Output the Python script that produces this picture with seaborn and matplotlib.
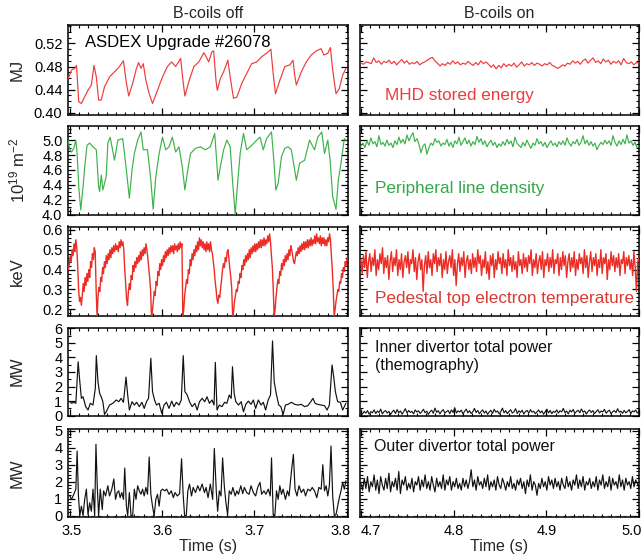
import numpy as np
import pandas as pd
import matplotlib
matplotlib.use("Agg")
import matplotlib.pyplot as plt
import matplotlib.transforms as mtransforms
import seaborn as sns
from matplotlib.ticker import MultipleLocator

sns.set_style("ticks")
plt.rcParams['font.family'] = ['Liberation Sans', 'DejaVu Sans']
plt.rcParams['mathtext.default'] = 'regular'

# ---------------- DATA ----------------
col_titles = ["B-coils off", "B-coils on"]
xlabel = "Time (s)"
ylabels = ["MJ", "10$^{19}$ m$^{-2}$", "keV", "MW", "MW"]
off_ticks = [3.5, 3.6, 3.7, 3.8]
on_ticks = [4.7, 4.8, 4.9, 5.0]
t_off_start = 3.5   # s, time origin of the ms offsets below

# MHD stored energy, B-coils off (ms after 3.5 s, MJ)
w_off_ms = [-1.8, 1.8, 5.4, 7.2, 9.7, 12.5, 16.1, 19.7, 23.3, 26.2, 28.7, 31.2, 34.0, 37.6, 43.0,
            48.4, 53.8, 58.1, 60.9, 63.8, 68.1, 71.7, 74.5, 77.1, 79.6, 82.4, 86.0, 89.6, 95.0,
            100.4, 105.7, 110.4, 114.7, 120.1, 122.6, 124.7, 129.0, 134.4, 139.8, 145.2, 148.7,
            150.5, 154.1, 155.9, 158.4, 159.8, 163.1, 166.7, 171.3, 173.8, 177.4, 181.0, 186.4,
            191.7, 197.1, 202.5, 207.9, 213.2, 217.9, 220.4, 222.9, 227.6, 233.0, 238.4, 241.9,
            243.7, 245.5, 250.9, 256.3, 261.6, 267.0, 272.4, 275.3, 279.6, 282.4, 284.9, 288.5,
            292.1, 295.7, 299.3]
w_off = [0.459, 0.474, 0.477, 0.482, 0.419, 0.416, 0.428, 0.439, 0.448, 0.482, 0.462, 0.422, 0.422,
         0.445, 0.462, 0.471, 0.480, 0.490, 0.456, 0.429, 0.451, 0.474, 0.487, 0.477, 0.485, 0.456,
         0.433, 0.416, 0.439, 0.462, 0.480, 0.488, 0.480, 0.494, 0.456, 0.429, 0.454, 0.480, 0.488,
         0.504, 0.494, 0.488, 0.506, 0.507, 0.456, 0.439, 0.459, 0.471, 0.491, 0.462, 0.425, 0.427,
         0.451, 0.468, 0.485, 0.488, 0.497, 0.503, 0.510, 0.468, 0.433, 0.456, 0.480, 0.483, 0.491,
         0.465, 0.448, 0.471, 0.488, 0.500, 0.507, 0.511, 0.500, 0.503, 0.513, 0.474, 0.433, 0.442,
         0.465, 0.477]

# MHD stored energy, B-coils on (MJ, evenly sampled 4.7-5.0 s)
w_on = [0.486, 0.484, 0.488, 0.487, 0.485, 0.495, 0.487, 0.490, 0.484, 0.489,
        0.487, 0.491, 0.485, 0.489, 0.483, 0.488, 0.492, 0.486, 0.490, 0.484,
        0.487, 0.485, 0.489, 0.483, 0.486, 0.488, 0.491, 0.494, 0.496, 0.490,
        0.486, 0.481, 0.485, 0.482, 0.487, 0.484, 0.490, 0.485, 0.488, 0.483,
        0.486, 0.484, 0.489, 0.485, 0.482, 0.487, 0.483, 0.490, 0.485, 0.488,
        0.484, 0.479, 0.483, 0.476, 0.482, 0.478, 0.485, 0.480, 0.484, 0.481,
        0.486, 0.479, 0.483, 0.488, 0.481, 0.485, 0.483, 0.487, 0.482, 0.486,
        0.484, 0.481, 0.485, 0.483, 0.487, 0.482, 0.480, 0.477, 0.479, 0.483,
        0.481, 0.486, 0.484, 0.490, 0.486, 0.489, 0.484, 0.490, 0.493, 0.486,
        0.491, 0.495, 0.487, 0.490, 0.485, 0.493, 0.488, 0.491, 0.484, 0.489,
        0.486, 0.490, 0.483, 0.494, 0.487, 0.485, 0.488, 0.483, 0.487, 0.486]

# Peripheral line density, B-coils off (ms after 3.5 s, 1e19 m^-2)
n_off_ms = [-1.8, 0.0, 1.8, 4.3, 6.5, 7.9, 9.7, 11.8, 14.3, 16.1, 18.6, 21.5, 25.1, 28.7, 31.2, 32.3,
            34.1, 35.8, 39.4, 41.2, 43.7, 48.4, 52.0, 57.3, 60.9, 64.5, 67.4, 69.9, 73.5, 77.1,
            79.6, 84.2, 87.8, 90.3, 93.2, 96.8, 100.4, 103.9, 107.5, 111.1, 114.7, 118.3, 121.9,
            124.7, 127.2, 130.8, 136.2, 141.6, 146.9, 152.3, 157.0, 158.8, 160.6, 163.1, 166.7,
            170.2, 173.8, 176.3, 179.2, 182.1, 184.6, 188.2, 191.7, 197.1, 202.5, 206.1, 209.7,
            213.2, 218.6, 221.1, 223.3, 225.8, 229.4, 233.0, 236.5, 240.1, 245.5, 249.1, 254.5,
            259.8, 265.2, 268.8, 273.1, 276.0, 279.6, 282.1, 284.9, 288.5, 291.0, 293.9, 297.5,
            299.3]
n_off = [5.00, 4.87, 4.84, 4.89, 5.00, 4.82, 4.37, 4.06, 4.37, 4.64, 4.93, 4.96, 4.91, 4.87,
         4.37, 4.31, 4.53, 4.33, 4.51, 4.96, 5.04, 4.73, 5.00, 5.02, 4.64, 4.22, 4.60, 4.82, 5.00,
         5.11, 4.87, 4.87, 4.46, 4.07, 4.51, 4.82, 5.04, 4.87, 4.91, 5.04, 4.84, 4.91, 4.64, 4.33,
         4.55, 4.82, 4.89, 4.91, 4.87, 4.91, 5.09, 4.78, 4.46, 4.64, 4.87, 5.00, 4.91, 4.46, 4.00,
         4.46, 4.82, 5.09, 4.87, 4.93, 5.00, 5.04, 4.87, 5.02, 5.11, 4.73, 4.33, 4.42, 4.78, 4.89,
         4.91, 4.87, 4.46, 4.69, 4.73, 5.00, 4.87, 5.04, 5.11, 4.82, 5.00, 4.73, 4.24, 4.07, 4.46,
         4.69, 5.02, 5.00]

# Peripheral line density, B-coils on (evenly sampled 4.7-5.0 s)
n_on = [4.92, 4.96, 4.90, 4.99, 4.93, 5.03, 4.95, 4.98, 4.91, 5.06,
        4.94, 4.97, 4.92, 5.00, 4.93, 4.96, 4.90, 4.99, 4.94, 5.04,
        4.96, 5.01, 4.95, 5.07, 4.99, 5.05, 5.10, 4.98, 5.02, 4.95,
        4.83, 4.92, 4.95, 4.81, 4.90, 4.96, 4.93, 5.02, 4.97, 4.99,
        4.92, 4.96, 4.94, 5.01, 4.92, 4.97, 4.90, 4.99, 4.95, 5.04,
        4.93, 4.98, 5.03, 4.95, 5.00, 4.92, 4.98, 4.94, 5.05, 4.97,
        5.02, 4.94, 4.99, 4.91, 4.96, 5.00, 4.93, 4.97, 4.90, 4.95,
        4.92, 4.98, 4.93, 5.01, 4.95, 4.99, 4.91, 5.04, 4.96, 4.93,
        4.90, 4.97, 4.92, 5.00, 4.94, 4.89, 4.96, 4.93, 5.02, 4.95,
        4.98, 4.92, 4.97, 4.90, 4.95, 4.99, 4.93, 4.96, 4.91, 4.98,
        4.94, 4.99, 4.93, 5.03, 4.96, 4.92, 4.98, 4.95, 5.01, 4.93,
        4.97, 5.06, 4.95, 5.00, 4.93, 4.98, 4.92, 4.96, 4.87, 4.93,
        4.97, 4.94, 5.00, 4.95, 4.99, 4.93, 5.06, 4.97, 4.92, 4.99,
        4.94, 5.01, 4.95, 5.07, 4.96, 4.99, 4.93, 4.97, 4.90, 4.92]

# Pedestal top Te, B-coils off (keV, sampled every 1 ms from 3.4985 s)
te_off_first_ms = -1.5
te_off = [0.40, 0.43, 0.47, 0.44, 0.50, 0.47, 0.53, 0.49, 0.55, 0.51, 0.42, 0.30, 0.24, 0.26, 0.22, 0.27,
          0.33, 0.29, 0.36, 0.32, 0.38, 0.34, 0.40, 0.36, 0.44, 0.41, 0.48, 0.45, 0.51, 0.49,
          0.30, 0.16,
          0.26, 0.31, 0.29, 0.36, 0.34, 0.41, 0.38, 0.44, 0.41, 0.47, 0.43, 0.48, 0.45, 0.50, 0.46,
          0.51, 0.48, 0.52, 0.49, 0.53, 0.50, 0.52, 0.49, 0.54, 0.51, 0.55, 0.52, 0.54, 0.50,
          0.40, 0.33, 0.25, 0.22, 0.29,
          0.33, 0.30, 0.37, 0.35, 0.42, 0.39, 0.44, 0.41, 0.46, 0.43, 0.47, 0.44, 0.49, 0.45, 0.50,
          0.47, 0.51, 0.48, 0.53, 0.50,
          0.46, 0.41, 0.36, 0.30, 0.16, 0.19,
          0.24, 0.29, 0.27, 0.34, 0.32, 0.39, 0.37, 0.43, 0.40, 0.45, 0.42, 0.47, 0.44, 0.49, 0.46,
          0.50, 0.47, 0.51, 0.48, 0.52, 0.49, 0.52, 0.48, 0.53, 0.50, 0.52, 0.49, 0.53, 0.50, 0.54,
          0.51, 0.53,
          0.16, 0.20,
          0.27, 0.31, 0.35, 0.33, 0.40, 0.38, 0.45, 0.42, 0.48, 0.45, 0.50, 0.47, 0.52, 0.49, 0.54,
          0.50, 0.56, 0.52, 0.55, 0.51, 0.54, 0.50, 0.53, 0.49, 0.54, 0.50, 0.53, 0.49, 0.54, 0.50,
          0.48, 0.44,
          0.40, 0.34, 0.30, 0.25, 0.23, 0.27, 0.26,
          0.31, 0.35, 0.40, 0.43, 0.41, 0.46, 0.44, 0.49, 0.50, 0.45,
          0.40, 0.36, 0.30, 0.16, 0.19,
          0.24, 0.27, 0.30, 0.29, 0.34, 0.33, 0.38, 0.36, 0.42, 0.40, 0.45, 0.42, 0.47, 0.44, 0.48,
          0.45, 0.50, 0.46, 0.51, 0.48, 0.52, 0.49, 0.53, 0.49, 0.53, 0.50, 0.54, 0.51, 0.55, 0.51,
          0.55, 0.52, 0.56, 0.52, 0.55, 0.53, 0.57, 0.54, 0.58, 0.54,
          0.47, 0.41, 0.30, 0.16, 0.20,
          0.26, 0.31, 0.35, 0.33, 0.39, 0.37, 0.43, 0.40, 0.45, 0.42, 0.47, 0.44, 0.48, 0.45, 0.50,
          0.47, 0.52, 0.50, 0.47, 0.44, 0.43, 0.46, 0.49, 0.47, 0.51, 0.48, 0.52, 0.49, 0.53, 0.50,
          0.54, 0.50, 0.54, 0.51, 0.55, 0.51, 0.55, 0.52, 0.56, 0.52, 0.55, 0.53, 0.57, 0.53, 0.58,
          0.54, 0.56, 0.53, 0.57, 0.52, 0.56, 0.53, 0.56, 0.52, 0.55, 0.52, 0.56, 0.54, 0.58, 0.55,
          0.47, 0.40, 0.30, 0.16, 0.20,
          0.24, 0.27, 0.30, 0.29, 0.34, 0.33, 0.38, 0.36, 0.41, 0.39, 0.44, 0.42, 0.46]

# Pedestal top Te, B-coils on (evenly sampled 4.7-5.0 s)
te_on = [0.45, 0.38, 0.47, 0.41, 0.49, 0.36, 0.44, 0.48, 0.39, 0.46,
         0.42, 0.50, 0.37, 0.45, 0.40, 0.48, 0.43, 0.51, 0.38, 0.46,
         0.41, 0.47, 0.35, 0.44, 0.49, 0.39, 0.46, 0.42, 0.50, 0.37,
         0.45, 0.40, 0.48, 0.36, 0.44, 0.47, 0.41, 0.49, 0.38, 0.45,
         0.43, 0.50, 0.39, 0.46, 0.35, 0.44, 0.48, 0.40, 0.45, 0.29,
         0.42, 0.47, 0.38, 0.49, 0.41, 0.45, 0.37, 0.48, 0.43, 0.50,
         0.39, 0.46, 0.42, 0.48, 0.36, 0.45, 0.40, 0.49, 0.38, 0.44,
         0.47, 0.41, 0.50, 0.37, 0.45, 0.32, 0.43, 0.48, 0.39, 0.46,
         0.42, 0.49, 0.36, 0.44, 0.47, 0.40, 0.45, 0.38, 0.48, 0.41,
         0.46, 0.39, 0.50, 0.43, 0.47, 0.37, 0.45, 0.41, 0.49, 0.38,
         0.44, 0.35, 0.47, 0.42, 0.48, 0.36, 0.45, 0.40, 0.49, 0.43,
         0.46, 0.38, 0.48, 0.41, 0.45, 0.37, 0.50, 0.42, 0.46, 0.39,
         0.47, 0.40, 0.44, 0.36, 0.49, 0.42, 0.45, 0.38, 0.48, 0.41,
         0.46, 0.39, 0.47, 0.43, 0.50, 0.37, 0.45, 0.41, 0.48, 0.38,
         0.44, 0.47, 0.40, 0.49, 0.36, 0.45, 0.42, 0.48, 0.39, 0.46,
         0.41, 0.50, 0.38, 0.45, 0.43, 0.48, 0.37, 0.46, 0.40, 0.49,
         0.42, 0.47, 0.36, 0.44, 0.48, 0.39, 0.46, 0.41, 0.49, 0.37,
         0.45, 0.40, 0.48, 0.43, 0.46, 0.38, 0.50, 0.41, 0.47, 0.36,
         0.44, 0.49, 0.39, 0.46, 0.42, 0.48, 0.37, 0.45, 0.41, 0.50,
         0.38, 0.46, 0.43, 0.48, 0.35, 0.45, 0.40, 0.49, 0.42, 0.47,
         0.39, 0.46, 0.41, 0.48, 0.37, 0.45, 0.43, 0.49, 0.38, 0.46,
         0.42, 0.47, 0.40, 0.45, 0.37, 0.49, 0.41, 0.29, 0.44, 0.46]

# Inner divertor power, B-coils off (ms after 3.5 s, MW)
pin_off_ms = [0.0, 1.8, 4.3, 6.5, 9.0, 10.8, 12.5, 14.3, 17.2, 19.7, 22.2, 25.1, 27.6, 28.7, 30.5,
              32.3, 34.0, 35.8, 37.6, 39.4, 43.0, 46.6, 50.2, 53.0, 55.6, 58.1, 60.9, 62.7, 64.5,
              67.4, 69.9, 72.4, 75.3, 78.1, 80.6, 83.1, 85.3, 87.8, 89.6, 91.8, 93.9, 96.8, 99.6,
              102.1, 104.7, 107.5, 110.4, 112.9, 115.4, 118.3, 120.8, 122.9, 124.7, 127.2, 129.7,
              132.6, 135.5, 138.0, 140.5, 143.4, 146.2, 148.7, 151.3, 154.1, 156.3, 157.7, 159.5,
              162.0, 164.9, 167.7, 170.2, 172.8, 174.9, 176.3, 178.1, 179.9, 182.8, 185.7, 188.2,
              190.7, 193.5, 196.4, 198.9, 201.4, 204.3, 207.2, 209.7, 212.2, 215.0, 217.5, 219.7,
              221.5, 224.0, 226.5, 228.7, 231.2, 233.7, 236.5, 240.1, 243.7, 247.3, 250.9, 254.5,
              258.0, 261.6, 263.4, 265.9, 268.8, 272.4, 276.0, 278.8, 281.3, 284.2, 286.0, 287.8,
              290.3, 293.2, 295.7, 297.5, 299.3]
pin_off = [0.96, 0.85, 0.92, 0.85, 3.70, 2.33, 1.19, 1.30, 0.62, 0.39, 0.85, 0.73, 1.88, 4.12, 2.33,
           1.53, 1.30, 0.96, 0.09, 0.27, 0.73, 0.85, 1.08, 0.96, 1.19, 0.92, 2.65, 1.42, 0.39, 0.96,
           0.73, 0.92, 0.62, 0.92, 0.50, 0.96, 1.19, 3.94, 1.65, 1.08, 0.73, 0.85, 0.16, 0.73, 0.92,
           0.50, 1.00, 0.62, 0.92, 0.73, 1.08, 4.12, 1.65, 1.42, 0.96, 0.62, 0.85, 0.39, 0.96, 1.19,
           0.96, 1.30, 0.85, 1.08, 0.73, 3.66, 0.39, 0.73, 0.62, 0.92, 0.85, 1.42, 1.19, 3.36, 1.53,
           0.96, 0.73, 0.96, 0.27, 0.78, 1.00, 0.78, 1.08, 0.50, 1.08, 0.73, 0.92, 0.39, 1.08, 1.42,
           5.13, 2.33, 1.42, 0.73, 0.62, 0.09, 0.73, 0.78, 0.92, 0.78, 0.73, 0.78, 0.62, 0.69, 1.00,
           1.19, 0.85, 0.78, 0.73, 0.69, 0.39, 0.73, 3.48, 2.68, 1.65, 0.96, 0.92, 0.39, 0.62, 0.85]

# Inner divertor power, B-coils on (evenly sampled 4.7-5.0 s)
pin_on = [0.25, 0.12, 0.30, 0.18, 0.35, 0.10, 0.28, 0.20, 0.40, 0.15,
          0.32, 0.22, 0.45, 0.12, 0.28, 0.35, 0.18, 0.30, 0.08, 0.26,
          0.38, 0.15, 0.42, 0.20, 0.33, 0.10, 0.29, 0.48, 0.18, 0.36,
          0.22, 0.30, 0.12, 0.40, 0.25, 0.34, 0.15, 0.28, 0.44, 0.20,
          0.31, 0.09, 0.27, 0.38, 0.16, 0.52, 0.23, 0.35, 0.12, 0.30,
          0.42, 0.18, 0.28, 0.36, 0.14, 0.40, 0.22, 0.55, 0.19, 0.33,
          0.25, 0.38, 0.11, 0.30, 0.45, 0.20, 0.34, 0.15, 0.27, 0.50,
          0.22, 0.36, 0.13, 0.29, 0.40, 0.18, 0.32, 0.09, 0.26, 0.37,
          0.16, 0.44, 0.24, 0.33, 0.12, 0.28, 0.52, 0.20, 0.35, 0.14,
          0.30, 0.41, 0.18, 0.27, 0.48, 0.15, 0.34, 0.22, 0.38, 0.11,
          0.29, 0.36, 0.17, 0.42, 0.24, 0.31, 0.13, 0.27, 0.39, 0.20,
          0.33, 0.10, 0.28, 0.45, 0.19, 0.36, 0.14, 0.30, 0.23, 0.40,
          0.18, 0.34, 0.26, 0.50, 0.21, 0.32, 0.12, 0.38, 0.25, 0.43,
          0.16, 0.29, 0.37, 0.20, 0.46, 0.24, 0.33, 0.11, 0.30, 0.39,
          0.22, 0.35, 0.15, 0.28, 0.41, 0.19, 0.32, 0.26, 0.44, 0.17,
          0.30, 0.38, 0.13, 0.27, 0.35, 0.21, 0.48, 0.24, 0.31, 0.16,
          0.36, 0.20, 0.29, 0.42, 0.14, 0.33, 0.26, 0.39, 0.18, 0.30]

# Outer divertor power, B-coils off (ms after 3.5 s, MW)
pout_off_ms = [0.0, 1.8, 4.3, 6.5, 7.9, 9.3, 10.8, 12.5, 14.3, 16.1, 17.9, 19.7, 21.5, 23.3, 25.1,
               26.9, 28.3, 29.7, 31.2, 33.0, 35.1, 36.6, 38.7, 41.2, 43.0, 45.5, 47.7, 49.5, 51.3,
               53.0, 54.5, 56.3, 58.1, 59.5, 61.3, 62.7, 64.5, 66.3, 68.1, 69.9, 71.7, 73.5, 75.3,
               77.1, 78.8, 80.6, 82.4, 84.2, 86.0, 87.8, 89.6, 91.4, 93.2, 95.0, 96.8, 98.6, 100.4,
               102.9, 105.0, 107.5, 110.0, 112.2, 114.0, 116.5, 119.0, 121.1, 122.9, 124.4, 126.2,
               127.9, 129.7, 131.9, 133.7, 136.2, 138.7, 140.9, 143.4, 145.9, 147.7, 149.8, 152.3,
               154.8, 156.6, 158.8, 160.2, 162.0, 163.8, 165.6, 167.4, 169.2, 171.0, 172.8, 174.9,
               176.7, 179.2, 181.0, 182.8, 185.3, 187.4, 189.2, 191.7, 194.3, 196.4, 198.9, 201.4,
               203.6, 206.1, 207.9, 210.4, 212.5, 215.0, 217.2, 218.6, 220.4, 222.2, 224.0, 225.8,
               227.6, 229.4, 231.2, 233.7, 235.8, 237.6, 240.1, 242.3, 244.1, 246.2, 248.4, 250.9,
               253.4, 255.5, 258.0, 260.6, 262.7, 265.2, 267.7, 269.9, 272.4, 274.2, 276.0, 277.8,
               279.6, 281.3, 283.1, 284.9, 286.7, 288.5, 290.3, 292.1, 293.9, 295.7, 297.5, 299.3]
pout_off = [1.16, 0.96, 1.26, 1.56, 3.80, 1.16, 0.00, 0.56, 0.00, 0.96, 1.56, 0.06, 0.76, 0.26, 1.56,
            0.00, 4.20, 1.76, 0.00, 1.56, 0.36, 1.46, 1.16, 1.76, 1.16, 1.56, 2.16, 0.96, 1.36,
            1.46, 1.06, 1.36, 0.96, 2.80, 0.56, 0.00, 1.36, 0.00, 0.00, 1.56, 0.96, 1.76, 1.46,
            1.26, 1.56, 1.16, 1.66, 1.26, 3.45, 1.26, 0.56, 0.00, 0.96, 1.26, 0.56, 1.46, 1.56,
            1.46, 1.56, 1.26, 1.46, 1.06, 1.36, 1.16, 1.30, 3.35, 1.16, 0.00, 0.00, 1.46, 1.86,
            1.16, 1.66, 1.36, 1.76, 1.46, 1.86, 1.36, 1.66, 1.06, 1.86, 0.96, 3.95, 1.36, 0.26,
            1.46, 1.16, 3.40, 1.76, 0.76, 0.06, 1.46, 1.26, 1.66, 1.16, 1.46, 1.26, 1.76, 1.30,
            1.66, 1.36, 1.26, 1.76, 1.36, 1.16, 1.66, 1.96, 1.26, 1.46, 1.26, 1.56, 1.16, 3.40,
            0.06, 0.00, 1.46, 0.96, 1.76, 1.26, 1.56, 0.96, 1.46, 1.16, 2.56, 3.60, 1.56, 1.16,
            1.76, 1.36, 1.56, 1.16, 1.56, 1.46, 1.66, 1.46, 1.06, 1.66, 1.56, 3.00, 1.46, 1.76,
            1.16, 1.76, 4.10, 1.16, 0.00, 0.06, 0.56, 1.06, 1.46, 1.96, 1.56, 2.06]

# Outer divertor power, B-coils on (evenly sampled 4.7-5.0 s)
pout_on = [1.9, 1.5, 2.2, 1.6, 2.3, 1.4, 2.0, 1.7, 2.4, 1.5,
           2.1, 1.3, 2.3, 1.8, 1.5, 2.2, 1.6, 2.5, 1.4, 2.0,
           1.7, 2.2, 1.5, 2.6, 1.3, 2.1, 1.8, 2.3, 1.5, 1.9,
           1.6, 2.2, 1.4, 2.0, 1.8, 2.3, 1.5, 2.1, 1.7, 2.4,
           1.6, 2.0, 1.5, 2.3, 1.8, 1.4, 2.2, 1.7, 2.0, 1.6,
           2.4, 1.5, 2.1, 1.8, 2.3, 1.5, 2.0, 1.7, 2.2, 1.6,
           1.9, 1.5, 2.2, 1.7, 2.1, 1.6, 2.0, 2.7, 1.7, 2.1,
           1.5, 2.3, 1.8, 2.0, 1.6, 2.2, 1.7, 2.4, 1.5, 2.0,
           1.7, 2.1, 1.5, 2.3, 1.8, 1.6, 2.2, 1.9, 1.5, 2.0,
           1.7, 2.3, 1.6, 1.9, 1.5, 2.1, 1.8, 2.2, 1.6, 2.0,
           1.3, 2.1, 1.7, 2.4, 1.5, 2.0, 1.8, 1.2, 1.9, 1.6,
           2.2, 1.7, 2.0, 1.5, 2.3, 1.8, 2.1, 1.6, 2.2, 1.7,
           2.0, 1.5, 2.2, 1.8, 1.6, 2.3, 1.7, 2.0, 1.5, 2.1,
           1.8, 2.4, 1.6, 2.1, 1.7, 2.3, 1.5, 2.0, 1.8, 2.2,
           1.6, 2.0, 1.7, 2.3, 1.5, 2.1, 1.8, 2.4, 1.6, 2.0,
           1.7, 2.3, 1.5, 2.2, 1.8, 2.0, 1.6, 2.4, 1.7, 2.1,
           1.5, 2.2, 1.8, 2.0, 1.6, 2.3, 1.7, 2.1, 1.9, 1.6]

labels_on = ["MHD stored energy", "Peripheral line density", "Pedestal top electron temperature",
             "Inner divertor total power\n(themography)", "Outer divertor total power"]
shot_label = "ASDEX Upgrade #26078"

# ---------------- STYLE ----------------
RED = "#F03A3A"
GREEN = "#3DB24A"
TERED = "#EC2D25"
BLACK = "#111111"

W_PX, H_PX = 642, 560
fig = plt.figure(figsize=(W_PX / 100, H_PX / 100), dpi=100)

col_x = [(68, 348), (360, 639)]
row_y = [(25, 114.5), (126, 214.5), (226.5, 316), (327.5, 415.7), (429.3, 516.7)]
ylims = [(0.397, 0.552), (4.0, 5.19), (0.166, 0.617), (0.0, 6.05), (-0.06, 5.08)]
ymaj = [0.04, 0.2, 0.1, 1, 1]
ymin = [0.01, 0.05, 0.02, 0.5, 0.2]
yfmt = ["%.2f", "%.1f", "%.1f", "%d", "%d"]
# pixel shifts of the bottom tick labels (edge labels kept inside the frame)
xlabel_shift = [[2, 0, 0, -6], [10, 0, 0, -7]]


def t_off(ms):
    return t_off_start + np.asarray(ms) / 1000.0


te_off_ms = te_off_first_ms + np.arange(len(te_off))

off_series = [(t_off(w_off_ms), w_off, RED, 0.85),
              (t_off(n_off_ms), n_off, GREEN, 0.85),
              (t_off(te_off_ms), te_off, TERED, 1.0),
              (t_off(pin_off_ms), pin_off, BLACK, 0.85),
              (t_off(pout_off_ms), pout_off, BLACK, 0.85)]
on_vals = [(w_on, RED, 0.85), (n_on, GREEN, 0.85), (te_on, TERED, 1.0),
           (pin_on, BLACK, 0.8), (pout_on, BLACK, 0.85)]

text_colors = ["#EE3B3B", "#35A848", "#D83A33", BLACK, BLACK]
text_sizes = [12.3, 12.3, 12.3, 11.5, 11.5]
text_pos = [(0.088, 0.21), (0.052, 0.29), (0.052, 0.19), (0.055, 0.86), (0.05, 0.80)]

for r in range(5):
    y0, y1 = row_y[r]
    for c in range(2):
        x0, x1 = col_x[c]
        ax = fig.add_axes([x0 / W_PX, 1 - y1 / H_PX, (x1 - x0) / W_PX, (y1 - y0) / H_PX])
        if c == 0:
            t, v, colr, lw = off_series[r]
            df = pd.DataFrame({"t": t, "v": v})
            ax.set_xlim(3.498, 3.8015)
            ax.set_xticks(off_ticks)
        else:
            v, colr, lw = on_vals[r]
            df = pd.DataFrame({"t": np.linspace(4.7, 5.0, len(v)), "v": v})
            ax.set_xlim(4.699, 5.0)
            ax.set_xticks(on_ticks)
        if r == 4:
            ax.axhline(0, color="#777777", lw=0.9, ls=(0, (3, 3)), zorder=1)
        sns.lineplot(data=df, x="t", y="v", ax=ax, color=colr, linewidth=lw,
                     estimator=None, sort=False, zorder=3)
        ax.set_ylim(*ylims[r])
        ax.yaxis.set_major_locator(MultipleLocator(ymaj[r]))
        ax.yaxis.set_minor_locator(MultipleLocator(ymin[r]))
        ax.xaxis.set_minor_locator(MultipleLocator(0.01))
        ax.yaxis.set_major_formatter(matplotlib.ticker.FormatStrFormatter(yfmt[r]))
        ax.xaxis.set_major_formatter(matplotlib.ticker.FormatStrFormatter("%.1f"))
        ax.tick_params(which="both", direction="in", top=True, right=True,
                       labelsize=10.5, colors="black")
        ax.tick_params(axis="y", pad=4)
        ax.tick_params(axis="x", pad=5)
        ax.tick_params(which="major", length=5, width=0.9)
        ax.tick_params(which="minor", length=2.5, width=0.8)
        for s in ax.spines.values():
            s.set_linewidth(1.1)
            s.set_color("black")
            s.set_visible(True)
        ax.set_xlabel("")
        ax.set_ylabel("")
        if c == 1:
            ax.tick_params(axis="y", labelleft=False)
        if r < 4:
            ax.tick_params(axis="x", labelbottom=False)
        else:
            ax.set_xlabel(xlabel, fontsize=11.5, labelpad=1)
            for lab, dx in zip(ax.get_xticklabels(), xlabel_shift[c]):
                lab.set_transform(lab.get_transform() +
                                  mtransforms.ScaledTranslation(dx / 100, 0, fig.dpi_scale_trans))
        if c == 1:
            tx, ty = text_pos[r]
            ax.text(tx, ty, labels_on[r], transform=ax.transAxes, ha="left",
                    va="top" if r == 3 else "center", color=text_colors[r],
                    fontsize=text_sizes[r], linespacing=1.25)
        if c == 0 and r == 0:
            ax.text(0.06, 0.81, shot_label, transform=ax.transAxes, ha="left",
                    va="center", fontsize=12, color="black")
        if r == 0:
            ax.set_title(col_titles[c], fontsize=11.5, pad=5)
    fig.text(17 / W_PX, 1 - (y0 + y1) / 2 / H_PX, ylabels[r], rotation=90,
             ha="center", va="center", fontsize=12)

fig.savefig("out.png", dpi=100)
